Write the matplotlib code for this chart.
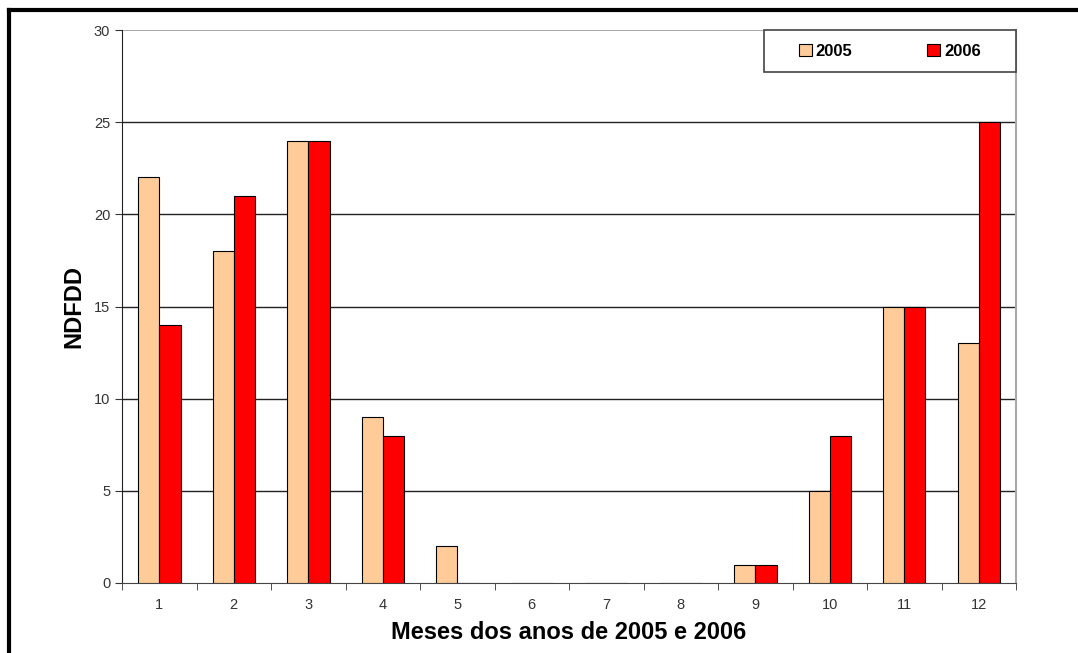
import numpy as np
import matplotlib.pyplot as plt
from matplotlib.lines import Line2D
from matplotlib.patches import Rectangle

plt.rcParams['font.family'] = ['Liberation Sans', 'DejaVu Sans']

# --- dados ---
meses = [str(m) for m in range(1, 13)]
ndfdd_2005 = [22, 18, 24, 9, 2, 0, 0, 0, 1, 5, 15, 13]
ndfdd_2006 = [14, 21, 24, 8, 0, 0, 0, 0, 1, 8, 15, 25]
anos = ["2005", "2006"]
cores = ["#FFCC99", "#FF0000"]

fig = plt.figure(figsize=(10.78, 6.53), dpi=100)
ax = fig.add_axes([0.1132, 0.1072, 0.8293, 0.8468])

x = np.arange(len(meses))
w = 0.285
ax.bar(x - w / 2, ndfdd_2005, w, color=cores[0], edgecolor="black", linewidth=0.8, label=anos[0], zorder=3)
ax.bar(x + w / 2, ndfdd_2006, w, color=cores[1], edgecolor="black", linewidth=0.8, label=anos[1], zorder=3)

ax.set_xlim(-0.5, len(meses) - 0.5)
ax.set_ylim(0, 30)
ax.set_yticks(range(0, 31, 5))
ax.set_xticks(x)
ax.set_xticklabels(meses)
ax.set_xticks(np.arange(-0.5, len(meses), 1), minor=True)
ax.tick_params(axis="x", which="major", length=0, pad=11, labelsize=10.5, labelcolor="#333333")
ax.tick_params(axis="x", which="minor", length=5, direction="out", color="#333333")
ax.tick_params(axis="y", length=5, direction="out", labelsize=10.5, labelcolor="#333333", color="#333333")

# linhas de grade horizontais
for yv in range(5, 30, 5):
    ax.axhline(yv, color="#222222", linewidth=1.0, zorder=1)
ax.axhline(30, color="#999999", linewidth=1.2, zorder=1)

ax.spines["top"].set_visible(False)
ax.spines["right"].set_color("#aaaaaa")
ax.spines["right"].set_linewidth(1.5)
ax.spines["left"].set_color("#222222")
ax.spines["bottom"].set_color("#444444")

ax.set_ylabel("NDFDD", fontsize=17, fontweight="heavy", labelpad=6)
ax.set_xlabel("Meses dos anos de 2005 e 2006", fontsize=17, fontweight="heavy", labelpad=6)

# caixa da legenda
caixa = (0.7087, 0.8897, 0.2338, 0.0643)
fig.add_artist(Rectangle(caixa[:2], caixa[2], caixa[3], transform=fig.transFigure,
                         facecolor="white", edgecolor="#444444", linewidth=1.2, zorder=5))
leg = fig.legend(loc="center", bbox_to_anchor=caixa, ncol=2, frameon=False,
                 handlelength=0.75, handleheight=0.75, handletextpad=0.25, columnspacing=4.5,
                 prop={"weight": "bold", "size": 12}, borderaxespad=0)
leg.set_zorder(6)
for h in leg.legend_handles:
    h.set_linewidth(0.8)

# moldura externa (esquerda e topo)
fig.add_artist(Line2D([0.0085, 0.0085], [0.0, 0.985], color="black", linewidth=3, transform=fig.transFigure))
fig.add_artist(Line2D([0.0085, 1.0], [0.985, 0.985], color="black", linewidth=3, transform=fig.transFigure))

fig.savefig("out.png", dpi=100)
